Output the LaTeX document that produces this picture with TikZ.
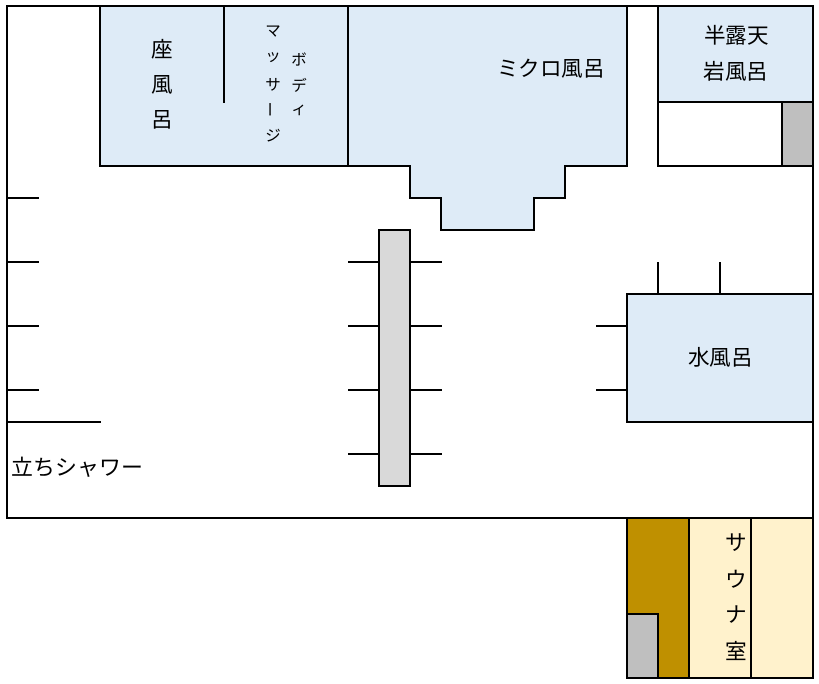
\documentclass[tikz,border=0pt]{standalone}
\usepackage{fontspec}
\setmainfont{Noto Sans CJK JP}
\definecolor{bathblue}{HTML}{DEEBF7}
\definecolor{greybox}{HTML}{BFBFBF}
\definecolor{lightbar}{HTML}{D9D9D9}
\definecolor{saunabrown}{HTML}{BF9000}
\definecolor{saunacream}{HTML}{FFF2CC}
\tikzset{
  wall/.style={draw=black,line width=2pt,line cap=rect,line join=miter},
  tick/.style={draw=black,line width=2pt,line cap=butt},
  bath/.style={wall,fill=bathblue},
  big/.style={inner sep=0pt,font=\fontsize{21.6}{22}\selectfont},
  small/.style={inner sep=0pt,font=\fontsize{15.5}{16}\selectfont},
}
\begin{document}
\begin{tikzpicture}[x=1pt,y=-1pt]
\useasboundingbox[fill=white] (0,0) rectangle (819,683);
% outer room
\draw[wall] (7,6) rectangle (813,518);
% baths top
\draw[bath] (100,6) rectangle (348,166);
\draw[tick] (224,6) -- (224,103);
\draw[bath] (348,6) -- (627,6) -- (627,166) -- (565,166) -- (565,198) -- (534,198) -- (534,230) -- (441,230) -- (441,198) -- (410,198) -- (410,166) -- (348,166) -- cycle;
\draw[bath] (658,6) rectangle (813,102);
\draw[wall] (658,102) rectangle (813,166);
\draw[wall,fill=greybox] (782,102) rectangle (813,166);
% centre bar and ticks
\foreach \y in {262,326,390,454}{
  \draw[tick] (348,\y) -- (441.5,\y);
}
\draw[wall,fill=lightbar] (379,230) rectangle (410,486);
% left ticks
\foreach \y in {198,262,326,390}{
  \draw[tick] (7,\y) -- (38.5,\y);
}
\draw[tick] (7,422) -- (100.5,422);
% water bath
\draw[bath] (627,294) rectangle (813,422);
\draw[tick] (596,326) -- (627,326);
\draw[tick] (596,390) -- (627,390);
\draw[tick] (658,262) -- (658,294);
\draw[tick] (720,262) -- (720,294);
% sauna
\draw[wall,fill=saunabrown] (627,518) rectangle (689,678);
\draw[wall,fill=greybox] (627,614) rectangle (658,678);
\draw[wall,fill=saunacream] (689,518) rectangle (751,678);
\draw[wall,fill=saunacream] (751,518) rectangle (813,678);
% labels
\node[big] (za1) at (162.5,49) {座};
\node[big] (za2) at (162.5,85) {風};
\node[big] (za3) at (162.5,120) {呂};
\node[small] (ma1) at (273,32) {マ};
\node[small] (ma2) at (273,58) {ッ};
\node[small] (ma3) at (273,85) {サ};
\node[small,rotate=90] (ma4) at (273,110) {ー};
\node[small] (ma5) at (273,136) {ジ};
\node[small] (bo1) at (299,59) {ボ};
\node[small] (bo2) at (299,85) {デ};
\node[small] (bo3) at (299,110) {ィ};
\node[big] (micro) at (551,68.5) {ミクロ風呂};
\node[big] (han) at (736.5,35) {半露天};
\node[big] (iwa) at (736,71) {岩風呂};
\node[big] (mizu) at (720.5,357) {水風呂};
\node[big,anchor=west,font=\fontsize{21.9}{22}\selectfont] (tachi) at (11.5,467) {立ちシャワー};
\node[big] (sa1) at (736.5,543) {サ};
\node[big] (sa2) at (736.5,579) {ウ};
\node[big] (sa3) at (736.5,615) {ナ};
\node[big] (sa4) at (736.5,651) {室};
\end{tikzpicture}
\end{document}
